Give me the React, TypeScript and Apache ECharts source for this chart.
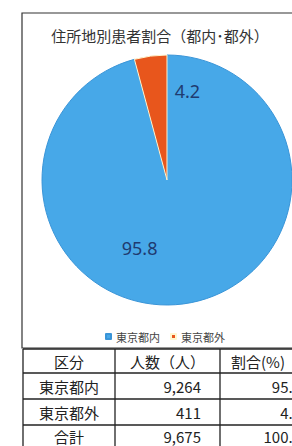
import React, { useEffect, useRef } from "react";
import * as echarts from "echarts";

const title = "住所地別患者割合（都内･都外）";
const categories = ["東京都内", "東京都外"];
const shares = [95.8, 4.2];
const counts = ["9,264", "411"];
const totalLabel = "合計";
const totalCount = "9,675";
const totalShare = "100.0";
const headers = ["区分", "人数（人）", "割合(%)"];

const colors = ["#47a8e8", "#e8561c"];
const labelOffsets: [number, number][] = [[-36, 3], [29, -24]];

export default function App() {
  const ref = useRef<HTMLDivElement>(null);
  useEffect(() => {
    if (!ref.current) return;
    const chart = echarts.init(ref.current, undefined, { renderer: "svg" });
    const font = "'Noto Sans CJK JP', 'Noto Sans', sans-serif";
    const colX = [23, 115, 220, 330];
    const rowY = [349, 373, 399, 425, 452];
    const textY = [361, 386, 412, 436];
    const lineStyle = { stroke: "#222", lineWidth: 1.3 };
    const graphics: any[] = [];
    graphics.push({
      type: "rect",
      shape: { x: 22, y: 13, width: 320, height: 335 },
      style: { fill: "none", stroke: "#333", lineWidth: 1.2 },
      silent: true,
    });
    rowY.forEach((y) =>
      graphics.push({ type: "line", shape: { x1: colX[0], y1: y, x2: colX[3], y2: y }, style: lineStyle, silent: true })
    );
    colX.forEach((x) =>
      graphics.push({ type: "line", shape: { x1: x, y1: rowY[0], x2: x, y2: rowY[4] }, style: lineStyle, silent: true })
    );
    const rows: string[][] = [headers];
    categories.forEach((c, i) => rows.push([c, counts[i], shares[i].toFixed(1)]));
    rows.push([totalLabel, totalCount, totalShare]);
    rows.forEach((r, ri) => {
      const cy = textY[ri];
      r.forEach((t, ci) => {
        const isHeader = ri === 0;
        let x: number;
        let align: string;
        if (ci === 0 || isHeader) {
          align = "center";
          x = ci === 2 ? 258 : (colX[ci] + colX[ci + 1]) / 2;
        } else if (ci === 1) {
          align = "right";
          x = 201;
        } else {
          align = "right";
          x = 301;
        }
        graphics.push({
          type: "text",
          x,
          y: cy,
          silent: true,
          style: {
            text: t,
            align,
            verticalAlign: "middle",
            fontSize: 15,
            fontFamily: font,
            fill: "#222",
          },
        });
      });
    });

    chart.setOption({
      animation: false,
      color: colors,
      title: {
        text: title,
        left: 155,
        textAlign: "center",
        top: 23,
        textStyle: { fontSize: 15, fontWeight: "normal", color: "#333", fontFamily: font },
      },
      legend: {
        data: categories,
        left: 100,
        top: 326,
        icon: "rect",
        itemWidth: 5,
        itemHeight: 5,
        itemGap: 10,
        textStyle: { fontSize: 11, color: "#444", fontFamily: font },
      },
      series: [
        {
          type: "pie",
          center: [167, 180],
          radius: 125,
          startAngle: 90,
          clockwise: true,
          data: categories.map((c, i) => ({
            name: c,
            value: shares[i],
            itemStyle: {
              color: colors[i],
              borderColor: i === 0 ? "#3a95d8" : "#fff6d0",
              borderWidth: 1,
            },
            label: { offset: labelOffsets[i] },
          })),
          label: {
            show: true,
            position: "inside",
            formatter: (p: any) => p.value.toFixed(1),
            fontSize: 18,
            color: "#1f3b70",
            fontFamily: "'Noto Sans', sans-serif",
          },
          labelLine: { show: false },
          emphasis: { disabled: true },
        },
      ],
      graphic: graphics,
    });
    return () => chart.dispose();
  }, []);
  return (
    <div style={{ position: "fixed", left: 0, top: 0, width: 292, height: 446, overflow: "hidden", background: "#fff" }}>
      <div ref={ref} style={{ width: 292, height: 446 }} />
    </div>
  );
}
